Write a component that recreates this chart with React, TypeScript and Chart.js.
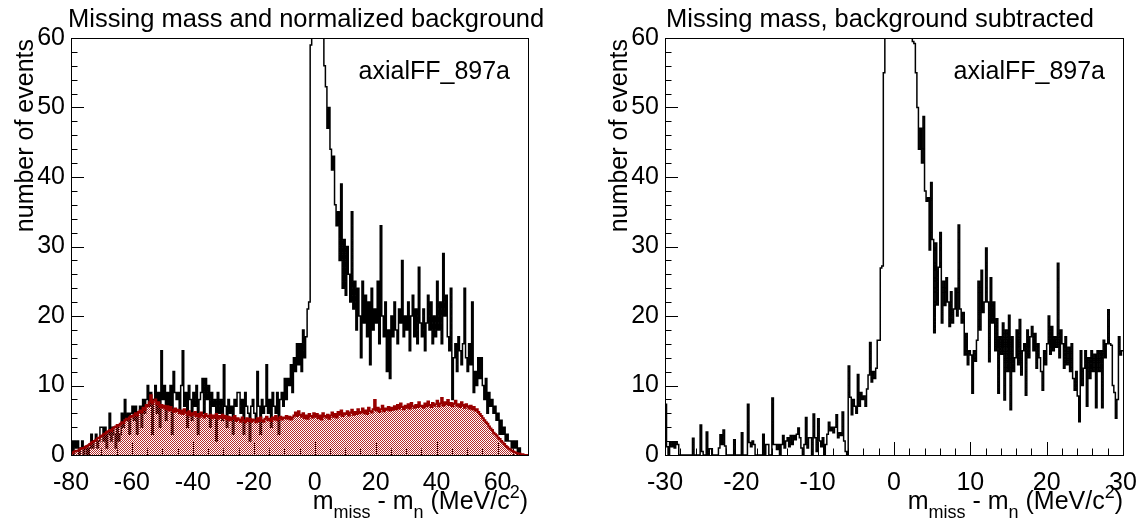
import React, { useEffect, useRef } from "react";
import { Chart, registerables } from "chart.js";

Chart.register(...registerables);

const FONT = "'Liberation Sans', Arial, Helvetica, sans-serif";

// ---------------- data ----------------
// Left panel: missing mass (black) and normalized background (red), 0.5 MeV bins from -80 to 70
const leftRange = [-80, 70];
const leftBinWidth = 0.5;
const leftSignal = [
  2, 0, 2, 1, 2, 0, 1, 2, 0, 1,
  1, 0, 1, 3, 1, 2, 3, 1, 2, 4,
  4, 2, 4, 1, 3, 6, 2, 4, 3, 1,
  4, 2, 3, 6, 4, 8, 5, 6, 3, 6,
  7, 5, 7, 3, 6, 7, 4, 8, 6, 8,
  10, 7, 9, 3, 8, 10, 6, 9, 4, 15,
  8, 10, 5, 9, 7, 10, 3, 12, 9, 8,
  9, 6, 10, 15, 7, 9, 4, 10, 8, 5,
  9, 7, 10, 3, 8, 9, 11, 6, 11, 8,
  10, 4, 9, 7, 8, 2, 9, 6, 8, 5,
  13, 7, 4, 8, 6, 7, 3, 8, 7, 9,
  9, 6, 8, 3, 9, 7, 6, 2, 7, 8,
  6, 5, 12, 7, 3, 8, 6, 7, 13, 6,
  8, 4, 9, 7, 6, 9, 3, 8, 9, 7,
  11, 8, 11, 10, 13, 9, 14, 12, 16, 13,
  16, 12, 18, 14, 17, 21, 22, 59, 90, 120,
  140, 180, 200, 190, 160, 110, 56, 53, 47, 50,
  44, 41, 43, 36, 33, 35, 28, 39, 24, 31,
  23, 30, 26, 22, 35, 21, 25, 18, 24, 20,
  14, 25, 19, 23, 17, 22, 13, 24, 18, 21,
  19, 25, 16, 33, 20, 17, 22, 12, 18, 11,
  20, 17, 22, 18, 16, 21, 19, 28, 17, 20,
  18, 22, 15, 20, 23, 17, 21, 16, 27, 19,
  17, 21, 15, 19, 23, 18, 22, 16, 20, 17,
  25, 18, 22, 16, 29, 20, 23, 17, 15, 24,
  8, 14, 16, 12, 17, 15, 13, 16, 24, 14,
  12, 16, 13, 22, 9, 12, 10, 14, 11, 14,
  10, 8, 11, 6, 9, 7, 8, 6, 7, 5,
  6, 3, 5, 3, 4, 2, 3, 2, 2, 1,
  2, 1, 2, 0, 1, 0, 0, 0, 0, 0,
];
const leftBackground = [
  0.3, 0.4, 0.5, 0.6, 0.6, 0.8, 0.9, 1.0, 1.0, 1.2,
  1.3, 1.4, 1.6, 1.8, 1.9, 2.0, 2.2, 2.4, 2.5, 2.7,
  2.8, 3.0, 3.1, 3.3, 3.4, 3.6, 3.5, 3.8, 4.0, 4.1,
  4.3, 4.2, 4.5, 4.7, 4.6, 5.0, 5.2, 5.1, 5.4, 5.6,
  5.5, 5.8, 6.0, 5.7, 6.2, 6.4, 6.1, 6.8, 6.5, 7.2,
  7.0, 7.6, 8.6, 7.4, 7.8, 8.0, 7.3, 7.6, 6.9, 7.2,
  6.8, 7.1, 6.6, 7.0, 6.4, 6.9, 6.5, 6.2, 6.7, 6.3,
  6.5, 6.0, 6.4, 5.9, 6.6, 6.1, 5.8, 6.3, 5.7, 6.0,
  5.8, 6.2, 5.6, 5.9, 5.5, 6.1, 5.7, 5.4, 5.9, 5.6,
  5.5, 5.8, 5.3, 5.7, 5.4, 5.9, 5.2, 5.6, 5.4, 5.8,
  5.3, 5.6, 5.1, 5.5, 5.0, 5.4, 5.2, 5.6, 4.9, 5.3,
  5.1, 4.8, 5.4, 5.0, 4.7, 5.3, 4.9, 5.2, 4.8, 5.1,
  5.0, 4.7, 5.3, 4.9, 5.4, 5.0, 4.8, 5.2, 5.5, 5.0,
  5.2, 4.9, 5.4, 5.1, 5.6, 5.0, 5.3, 5.5, 5.1, 5.4,
  5.3, 5.6, 5.2, 5.5, 5.1, 5.4, 5.7, 6.1, 5.6, 6.3,
  5.8, 5.5, 6.0, 5.3, 5.7, 5.2, 5.9, 5.6, 5.4, 6.0,
  5.5, 5.9, 5.3, 5.7, 5.1, 6.0, 5.6, 5.4, 5.8, 5.2,
  5.7, 6.1, 5.5, 5.9, 5.4, 6.2, 5.8, 6.4, 5.6, 6.0,
  5.9, 6.3, 5.7, 6.1, 6.5, 5.8, 6.2, 5.9, 6.6, 6.0,
  6.2, 6.7, 6.0, 6.4, 5.9, 6.8, 6.3, 6.1, 6.6, 7.9,
  6.4, 6.8, 6.2, 6.6, 7.1, 6.3, 6.7, 6.5, 6.9, 6.4,
  6.8, 6.5, 7.0, 6.6, 7.2, 6.7, 7.4, 6.9, 6.6, 7.1,
  6.8, 7.3, 6.7, 7.5, 7.0, 6.8, 7.2, 6.9, 7.6, 7.0,
  7.1, 6.8, 7.4, 7.0, 7.7, 7.2, 6.9, 7.5, 7.1, 7.3,
  7.8, 7.0, 7.4, 8.2, 7.1, 7.6, 7.3, 7.9, 7.2, 7.5,
  7.0, 7.4, 7.8, 7.1, 7.3, 6.9, 7.6, 7.2, 6.8, 7.3,
  7.0, 6.7, 7.1, 6.6, 6.9, 6.4, 6.6, 6.2, 5.9, 5.6,
  5.3, 5.0, 4.7, 4.5, 4.1, 3.8, 3.6, 3.2, 3.0, 2.8,
  2.5, 2.3, 2.0, 1.8, 1.6, 1.3, 1.1, 0.9, 0.8, 0.6,
  0.5, 0.4, 0.3, 0.2, 0.2, 0.1, 0.1, 0, 0, 0,
];

// Right panel: background subtracted, 0.2 MeV bins from -30 to 30
const rightRange = [-30, 30];
const rightBinWidth = 0.2;
const rightSubtracted = [
  7.3, 1.2, 0, 1.9, 1.2, 1.9, 1.0, 1.9, 1.5, 0,
  0, 0, 0, 0, 0, 0, 0, 0, 2.4, 0,
  0, 0, 0, 4.3, 0.5, 0, 0, 3.3, 0, 0.9,
  0.9, 0, 0, 0, 0, 1.0, 2.9, 1.5, 3.6, 1.3,
  0, 0, 0, 0, 0, 2.2, 0, 0, 0, 0,
  3.2, 0, 0, 0, 7.3, 1.8, 1.2, 2.0, 1.5, 0,
  0, 0, 0, 0, 3.0, 0, 1.5, 1.5, 0, 0,
  8.2, 1.5, 1.5, 0.8, 1.5, 0, 1.5, 2.8, 1.0, 2.0,
  2.5, 1.2, 2.8, 1.5, 2.8, 2.2, 3.0, 3.9, 2.5, 1.0,
  0, 1.5, 5.4, 1.0, 2.5, 2.5, 0, 5.9, 2.5, 0.5,
  5.2, 2.0, 1.2, 2.5, 0, 1.5, 3.0, 4.7, 3.5, 4.0,
  3.2, 4.0, 5.8, 2.5, 3.2, 2.8, 6.2, 2.0, 0.5, 0,
  12.8, 8.3, 5.8, 8.0, 7.0, 6.0, 11.6, 7.0, 9.0, 8.0,
  8.5, 7.0, 9.5, 11.5, 16.2, 10.5, 12.0, 11.0, 12.5, 16.5,
  16.5, 26.9, 27.2, 55, 75, 90, 110, 130, 150, 170,
  190, 200, 200, 190, 180, 160, 140, 120, 100, 85,
  75, 64, 59.5, 59.2, 55, 50, 44, 47, 42, 48.7,
  38, 36.5, 37, 29.5, 39.2, 31, 17.6, 30.5, 21.6, 27,
  32, 19, 25, 21.5, 25.5, 22, 18.5, 23.5, 19, 21,
  24, 20, 33.1, 21, 19, 20.5, 14.4, 17.5, 13, 15,
  14.4, 8.9, 15, 13.5, 16.5, 25, 18, 26.6, 20.5, 22,
  29.8, 22, 13.4, 25.5, 19, 22, 15, 19.6, 8.9, 17,
  14.5, 19, 7.9, 18, 12, 20.1, 6.5, 17, 12, 14,
  18, 13, 19.5, 11.5, 15, 16, 8.6, 18, 14, 17,
  18.5, 15, 17.5, 12.5, 16, 14, 12, 9.3, 15, 13,
  16, 20, 14.5, 18.5, 15, 17, 15.5, 27.6, 14, 18,
  16, 12.5, 17, 13, 15.5, 12, 16, 11, 9.3, 12,
  8.5, 4.8, 15, 10, 12.5, 15, 7, 14, 11, 15,
  12, 14.5, 6.8, 15, 12, 15, 6.8, 16.5, 14, 16,
  20.9, 16, 15.8, 10, 9, 5.3, 8, 17, 14.4, 15,
];

const yRange = [0, 60];
const leftXTicks = { major: 20, minor: 5 };
const rightXTicks = { major: 10, minor: 2 };
const yTicks = { major: 10, minor: 2 };

const leftTitle = "Missing mass and normalized background";
const rightTitle = "Missing mass, background subtracted";
const runLabel = "axialFF_897a";
const yAxisTitle = "number of events";

// ---------------- helpers ----------------
function histPoints(values: number[], start: number, width: number) {
  const pts = values.map((v, i) => ({ x: start + i * width, y: v }));
  pts.push({ x: start + values.length * width, y: values[values.length - 1] });
  return pts;
}

function makePattern(color: string): CanvasPattern | string {
  const c = document.createElement("canvas");
  c.width = 2;
  c.height = 2;
  const g = c.getContext("2d");
  if (!g) return color;
  g.fillStyle = color;
  g.fillRect(0, 0, 1, 1);
  g.fillRect(1, 1, 1, 1);
  return g.createPattern(c, "repeat") || color;
}

const isMultiple = (v: number, m: number) => Math.abs(v / m - Math.round(v / m)) < 1e-6;

const TEXT = 25;
const TITLE = 25.5;

const rootPlugin = {
  id: "rootStyle",
  beforeDatasetsDraw(chart: any, _args: any, opts: any) {
    const { ctx, chartArea: a, scales } = chart;
    ctx.save();
    ctx.strokeStyle = "#000";
    ctx.lineWidth = 1;
    ctx.beginPath();
    for (const t of scales.x.ticks) {
      const px = Math.round(scales.x.getPixelForValue(t.value)) + 0.5;
      const len = isMultiple(t.value, opts.xMajor) ? 13 : 6.5;
      ctx.moveTo(px, a.bottom);
      ctx.lineTo(px, a.bottom - len);
    }
    for (const t of scales.y.ticks) {
      const py = Math.round(scales.y.getPixelForValue(t.value)) + 0.5;
      const len = isMultiple(t.value, opts.yMajor) ? 13 : 6.5;
      ctx.moveTo(a.left, py);
      ctx.lineTo(a.left + len, py);
    }
    ctx.stroke();
    ctx.restore();
  },
  afterDraw(chart: any, _args: any, opts: any) {
    const { ctx, chartArea: a } = chart;
    ctx.save();
    ctx.strokeStyle = "#000";
    ctx.lineWidth = 1;
    ctx.strokeRect(a.left + 0.5, a.top + 0.5, a.right - a.left, a.bottom - a.top);

    ctx.fillStyle = "#000";
    ctx.textBaseline = "alphabetic";
    // title
    ctx.font = `${TITLE}px ${FONT}`;
    ctx.textAlign = "left";
    ctx.fillText(opts.title, a.left + opts.titleDx, 27);
    // run label
    ctx.font = `${TEXT}px ${FONT}`;
    ctx.textAlign = "right";
    ctx.fillText(opts.label, a.right - 18, 79);
    // y axis title (rotated, aligned to the top of the axis)
    ctx.save();
    ctx.translate(a.left - 38, a.top + 1);
    ctx.rotate(-Math.PI / 2);
    ctx.textAlign = "right";
    ctx.fillText(opts.yTitle, 0, 0);
    ctx.restore();
    // x axis title with sub/superscripts, right aligned at the frame
    const small = Math.round(TEXT * 0.7);
    const parts = [
      { t: "m", k: 0 },
      { t: "miss", k: -1 },
      { t: " - m", k: 0 },
      { t: "n", k: -1 },
      { t: " (MeV/c", k: 0 },
      { t: "2", k: 1 },
      { t: ")", k: 0 },
    ];
    let total = 0;
    const widths = parts.map((p) => {
      ctx.font = `${p.k === 0 ? TEXT : small}px ${FONT}`;
      const w = ctx.measureText(p.t).width;
      total += w;
      return w;
    });
    let x = a.right - total;
    const base = 509;
    ctx.textAlign = "left";
    parts.forEach((p, i) => {
      ctx.font = `${p.k === 0 ? TEXT : small}px ${FONT}`;
      const dy = p.k === -1 ? 9 : p.k === 1 ? -11 : 0;
      ctx.fillText(p.t, x, base + dy);
      x += widths[i];
    });
    ctx.restore();
  },
};

type PanelProps = {
  left: number;
  width: number;
  frameLeft: number;
  frameRight: number;
  xRange: number[];
  xTicks: { major: number; minor: number };
  title: string;
  titleDx: number;
  datasets: () => any[];
};

const FRAME_TOP = 38;
const FRAME_BOTTOM = 455;
const H = 521;

function Panel(props: PanelProps) {
  const ref = useRef<HTMLCanvasElement>(null);
  useEffect(() => {
    if (!ref.current) return;
    const { frameLeft, frameRight, width, xRange, xTicks } = props;
    const chart = new Chart(ref.current, {
      type: "line",
      data: { datasets: props.datasets() },
      options: {
        responsive: false,
        animation: false,
        layout: { padding: { left: 0, right: width - frameRight, top: FRAME_TOP, bottom: 0 } },
        elements: { point: { radius: 0 }, line: { tension: 0 } },
        plugins: {
          legend: { display: false },
          tooltip: { enabled: false },
          rootStyle: {
            xMajor: xTicks.major,
            yMajor: yTicks.major,
            title: props.title,
            titleDx: props.titleDx,
            label: runLabel,
            yTitle: yAxisTitle,
          },
        } as any,
        scales: {
          x: {
            type: "linear",
            min: xRange[0],
            max: xRange[1],
            afterFit: (s: any) => {
              s.height = H - FRAME_BOTTOM;
              s.paddingLeft = 0;
              s.paddingRight = 0;
            },
            grid: { display: false, drawTicks: false },
            border: { display: false },
            ticks: {
              stepSize: xTicks.minor,
              autoSkip: false,
              maxRotation: 0,
              minRotation: 0,
              padding: 13,
              color: "#000",
              font: { family: FONT, size: TEXT },
              callback: (v: any) => (isMultiple(Number(v), xTicks.major) ? String(v) : ""),
            },
          },
          y: {
            type: "linear",
            min: yRange[0],
            max: yRange[1],
            afterFit: (s: any) => {
              s.width = frameLeft;
              s.paddingTop = 0;
              s.paddingBottom = 0;
            },
            grid: { display: false, drawTicks: false },
            border: { display: false },
            ticks: {
              stepSize: yTicks.minor,
              autoSkip: false,
              padding: 6,
              color: "#000",
              font: { family: FONT, size: TEXT },
              callback: (v: any) => (isMultiple(Number(v), yTicks.major) ? String(v) : ""),
            },
          },
        },
      },
      plugins: [rootPlugin],
    });
    return () => chart.destroy();
  }, []);
  return (
    <canvas
      ref={ref}
      width={props.width}
      height={H}
      style={{ position: "absolute", left: props.left, top: 0, width: props.width, height: H }}
    />
  );
}

export default function App() {
  const leftDatasets = () => [
    {
      data: histPoints(leftBackground, leftRange[0], leftBinWidth),
      borderColor: "#990000",
      borderWidth: 2,
      backgroundColor: makePattern("#b52a2a"),
      fill: "origin",
      stepped: true,
      pointRadius: 0,
      order: 0,
    },
    {
      data: histPoints(leftSignal, leftRange[0], leftBinWidth),
      borderColor: "#000000",
      borderWidth: 1.5,
      fill: false,
      stepped: true,
      pointRadius: 0,
      order: 1,
    },
  ];
  const rightDatasets = () => [
    {
      data: histPoints(rightSubtracted, rightRange[0], rightBinWidth),
      borderColor: "#000000",
      borderWidth: 1.5,
      fill: false,
      stepped: true,
      pointRadius: 0,
    },
  ];
  return (
    <div style={{ position: "absolute", left: 0, top: 0, width: 1143, height: H, background: "#fff" }}>
      <Panel
        left={0}
        width={571}
        frameLeft={71}
        frameRight={528}
        xRange={leftRange}
        xTicks={leftXTicks}
        title={leftTitle}
        titleDx={-3}
        datasets={leftDatasets}
      />
      <Panel
        left={571}
        width={572}
        frameLeft={665 - 571}
        frameRight={1123 - 571}
        xRange={rightRange}
        xTicks={rightXTicks}
        title={rightTitle}
        titleDx={1}
        datasets={rightDatasets}
      />
    </div>
  );
}
